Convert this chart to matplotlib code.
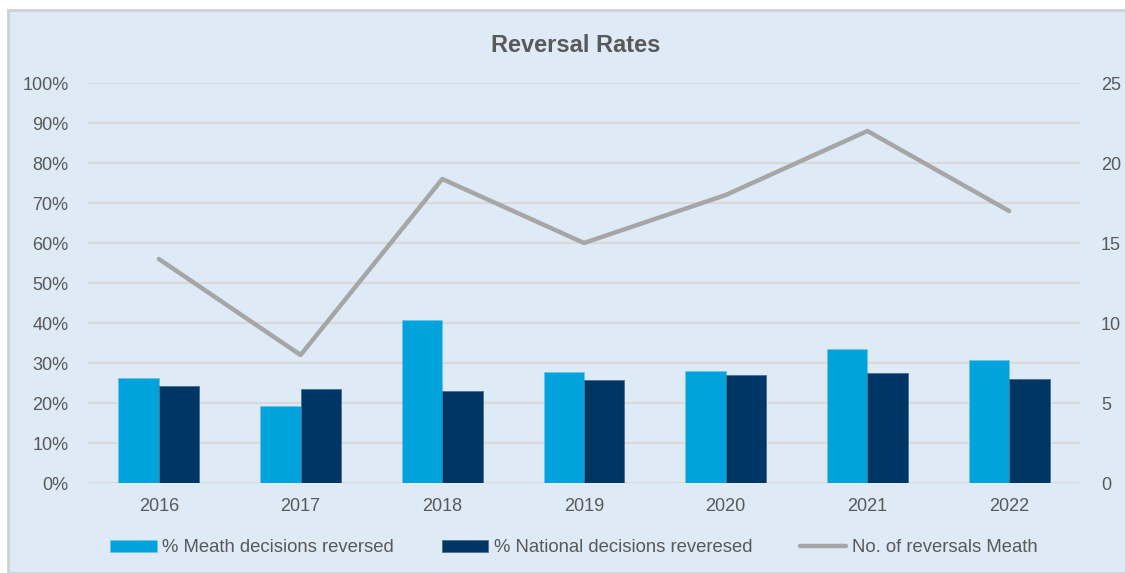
import matplotlib
matplotlib.use("Agg")
import matplotlib.pyplot as plt
from matplotlib.patches import Rectangle
from matplotlib.ticker import FuncFormatter, MultipleLocator
import numpy as np

plt.rcParams['font.family'] = ['Liberation Sans', 'DejaVu Sans']

years = ['2016', '2017', '2018', '2019', '2020', '2021', '2022']
meath_pct = [26.3, 19.3, 40.8, 27.7, 27.9, 33.6, 30.8]
national_pct = [24.3, 23.4, 22.9, 25.7, 27.1, 27.4, 25.9]
meath_reversals = [14, 8, 19, 15, 18, 22, 17]

C_MEATH = '#00A3DC'
C_NATIONAL = '#003664'
C_LINE = '#A6A6A6'
C_GRID = '#D9D9D9'
C_TEXT = '#595959'
C_BG = '#DEEAF6'

W, H = 1125, 573
fig = plt.figure(figsize=(W / 100, H / 100), dpi=100)
fig.patch.set_facecolor('white')

# chart panel with a light border
panel = Rectangle((8 / W, 0), 1 - 8 / W + 0.01, 1 - 10 / H, transform=fig.transFigure,
                  facecolor=C_BG, edgecolor='#D0D0D0', linewidth=2, zorder=-10)
fig.patches.append(panel)

ax = fig.add_axes([88 / W, 1 - 483 / H, (1080 - 88) / W, (483 - 83) / H])
ax.set_facecolor('none')

x = np.arange(len(years))
bw = 0.285
ax.bar(x - bw / 2, meath_pct, bw, color=C_MEATH, edgecolor='#6FC3E8', linewidth=0.6,
       label='% Meath decisions reversed', zorder=3)
ax.bar(x + bw / 2, national_pct, bw, color=C_NATIONAL, edgecolor='#4A6E96', linewidth=0.6,
       label='% National decisions reveresed', zorder=3)

ax.set_xlim(-0.5, len(years) - 0.5)
ax.set_ylim(0, 100)
ax.yaxis.set_major_locator(MultipleLocator(10))
ax.yaxis.set_major_formatter(FuncFormatter(lambda v, p: f'{v:.0f}%'))
ax.set_xticks(x)
ax.set_xticklabels(years)
ax.grid(axis='y', color=C_GRID, linewidth=1.6, zorder=0)
ax.set_axisbelow(True)
for s in ax.spines.values():
    s.set_visible(False)
ax.tick_params(axis='both', length=0, labelsize=13, colors=C_TEXT)
ax.tick_params(axis='y', pad=14)
ax.tick_params(axis='x', pad=11)

ax2 = ax.twinx()
ax2.set_ylim(0, 25)
ax2.yaxis.set_major_locator(MultipleLocator(5))
ax2.plot(x, meath_reversals, color=C_LINE, linewidth=3.2, solid_capstyle='round',
         label='No. of reversals Meath', zorder=4)
for s in ax2.spines.values():
    s.set_visible(False)
ax2.tick_params(axis='y', length=0, labelsize=13, colors=C_TEXT, pad=15)

fig.text(576 / W, 1 - 45 / H, 'Reversal Rates', ha='center', va='center',
         fontsize=17, fontweight='bold', color=C_TEXT)

h1, l1 = ax.get_legend_handles_labels()
h2, l2 = ax2.get_legend_handles_labels()
leg = fig.legend(h1 + h2, l1 + l2, loc='center', bbox_to_anchor=(574 / W, 1 - 548 / H),
                 ncol=3, frameon=False, fontsize=13.3, labelcolor=C_TEXT,
                 handlelength=2.5, handleheight=0.55, handletextpad=0.3, columnspacing=2.6)

fig.savefig('out.png', dpi=100, facecolor=fig.get_facecolor())
